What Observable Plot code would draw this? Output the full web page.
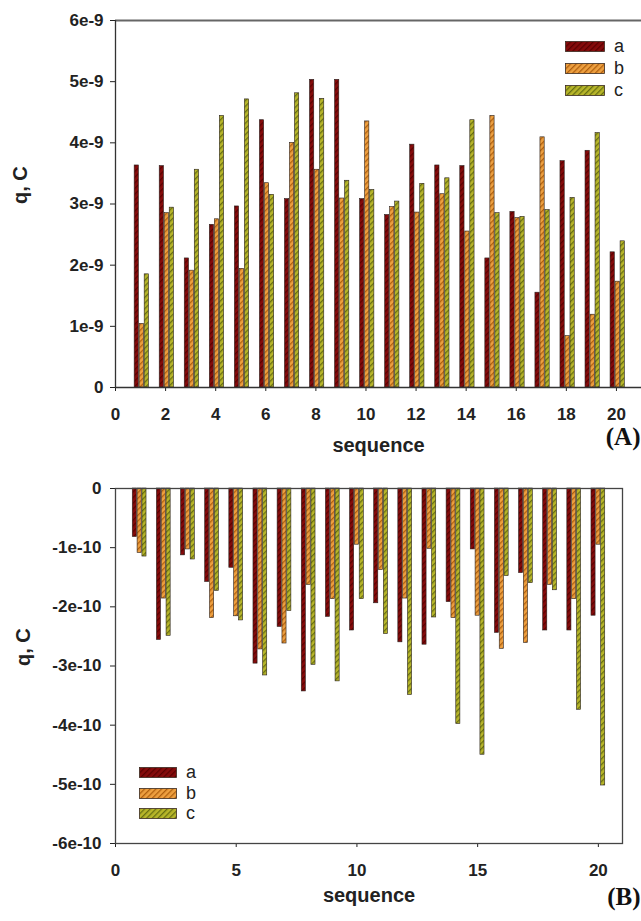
<!DOCTYPE html>
<html>
<head>
<meta charset="utf-8">
<script src="https://cdn.jsdelivr.net/npm/d3@7"></script>
<script src="https://cdn.jsdelivr.net/npm/@observablehq/plot@0.6"></script>
<style>
  html, body { margin: 0; padding: 0; background: #fff; }
  #wrap { position: relative; width: 641px; height: 921px; overflow: hidden; font-family: "Liberation Sans", Arial, sans-serif; }
  .panel { position: absolute; left: 0; }
  .panel g[aria-label*="axis"], .panel g[aria-label*="axis"] text { font-size: 17px !important; font-weight: bold !important; font-family: "Liberation Sans", Arial, sans-serif; fill: #222; }
  .legend { position: absolute; font-family: "Liberation Sans", Arial, sans-serif; font-size: 18px; color: #222; }
  .legend .row { position: absolute; left: 0; display: flex; align-items: center; white-space: nowrap; }
  .legend svg { display: block; }
</style>
</head>
<body>
<svg width="0" height="0" style="position:absolute">
  <defs>
    <pattern id="pa" patternUnits="userSpaceOnUse" width="4" height="4" patternTransform="rotate(45)">
      <rect width="4" height="4" fill="#850b0b"></rect>
      <rect width="1.3" height="4" fill="#5a0000"></rect>
    </pattern>
    <pattern id="pb" patternUnits="userSpaceOnUse" width="4" height="4" patternTransform="rotate(45)">
      <rect width="4" height="4" fill="#eea040"></rect>
      <rect width="1.3" height="4" fill="#b0600f"></rect>
    </pattern>
    <pattern id="pc" patternUnits="userSpaceOnUse" width="4" height="4" patternTransform="rotate(45)">
      <rect width="4" height="4" fill="#b8b62a"></rect>
      <rect width="1.3" height="4" fill="#687012"></rect>
    </pattern>
  </defs>
</svg>
<div id="wrap"></div>
<script>
// ---------- data ----------
const sequence = [1,2,3,4,5,6,7,8,9,10,11,12,13,14,15,16,17,18,19,20];
const seriesNames = ["a", "b", "c"];
const seriesFills = ["url(#pa)", "url(#pb)", "url(#pc)"];

// Panel A (q, C)
const qA_a = [3.63e-9,3.62e-9,2.11e-9,2.66e-9,2.96e-9,4.37e-9,3.08e-9,5.03e-9,5.03e-9,3.08e-9,2.82e-9,3.97e-9,3.63e-9,3.62e-9,2.11e-9,2.87e-9,1.55e-9,3.70e-9,3.87e-9,2.21e-9];
const qA_b = [1.04e-9,2.85e-9,1.91e-9,2.75e-9,1.94e-9,3.34e-9,4.00e-9,3.56e-9,3.09e-9,4.35e-9,2.95e-9,2.86e-9,3.16e-9,2.55e-9,4.44e-9,2.77e-9,4.09e-9,0.84e-9,1.19e-9,1.73e-9];
const qA_c = [1.85e-9,2.94e-9,3.56e-9,4.44e-9,4.71e-9,3.15e-9,4.81e-9,4.72e-9,3.38e-9,3.23e-9,3.04e-9,3.33e-9,3.42e-9,4.37e-9,2.85e-9,2.79e-9,2.90e-9,3.10e-9,4.16e-9,2.39e-9];

// Panel B (q, C)
const qB_a = [-0.82e-10,-2.56e-10,-1.13e-10,-1.58e-10,-1.34e-10,-2.96e-10,-2.34e-10,-3.43e-10,-2.17e-10,-2.40e-10,-1.94e-10,-2.60e-10,-2.64e-10,-1.92e-10,-1.03e-10,-2.44e-10,-1.43e-10,-2.40e-10,-2.40e-10,-2.15e-10];
const qB_b = [-1.09e-10,-1.86e-10,-1.03e-10,-2.19e-10,-2.16e-10,-2.72e-10,-2.62e-10,-1.63e-10,-1.87e-10,-0.95e-10,-1.38e-10,-1.86e-10,-1.02e-10,-2.19e-10,-2.15e-10,-2.71e-10,-2.61e-10,-1.63e-10,-1.87e-10,-0.95e-10];
const qB_c = [-1.15e-10,-2.49e-10,-1.20e-10,-1.73e-10,-2.23e-10,-3.16e-10,-2.07e-10,-2.98e-10,-3.26e-10,-1.87e-10,-2.46e-10,-3.49e-10,-2.18e-10,-3.98e-10,-4.50e-10,-1.48e-10,-1.60e-10,-1.72e-10,-3.74e-10,-5.02e-10];

// ticks
const xTicksA = [0,2,4,6,8,10,12,14,16,18,20];
const yTicksA = [0,1e-9,2e-9,3e-9,4e-9,5e-9,6e-9];
const yLabelsA = ["0","1e-9","2e-9","3e-9","4e-9","5e-9","6e-9"];
const xTicksB = [0,5,10,15,20];
const yTicksB = [0,-1e-10,-2e-10,-3e-10,-4e-10,-5e-10,-6e-10];
const yLabelsB = ["0","-1e-10","-2e-10","-3e-10","-4e-10","-5e-10","-6e-10"];

// ---------- helpers ----------
const barOffset = [-0.2, 0, 0.2];
const barHalf = 0.085;
function rows(arrays, shift) {
  const out = [];
  arrays.forEach((arr, si) => {
    arr.forEach((v, i) => out.push({seq: sequence[i], s: si, q: v, x1: sequence[i] + barOffset[si] + shift - barHalf, x2: sequence[i] + barOffset[si] + shift + barHalf}));
  });
  return out;
}
const dataA = rows([qA_a, qA_b, qA_c], 0.05);
const dataB = rows([qB_a, qB_b, qB_c], 0.0);

function barMarks(data) {
  return seriesNames.map((name, si) => Plot.rect(data.filter(d => d.s === si), {
    x1: "x1", x2: "x2", y1: d => 0, y2: "q",
    fill: seriesFills[si], stroke: "#2a2220", strokeWidth: 0.6
  }));
}

const baseStyle = {fontFamily: "Liberation Sans, Arial, sans-serif", fontSize: "17px", fontWeight: "bold", color: "#222", background: "transparent"};
const wrap = document.getElementById("wrap");

// ---------- Panel A ----------
const plotA = Plot.plot({
  width: 641, height: 460,
  marginLeft: 115, marginRight: 0, marginTop: 20, marginBottom: 73,
  style: baseStyle,
  x: {domain: [0, 21], ticks: xTicksA, tickSize: 4, tickPadding: 16, label: null},
  y: {domain: [0, 6e-9], ticks: yTicksA, tickFormat: d => yLabelsA[yTicksA.indexOf(d)], tickSize: 5, tickPadding: 7, label: null},
  marks: [
    ...barMarks(dataA),
    Plot.ruleY([6e-9], {stroke: "#666", strokeWidth: 2}),
    Plot.ruleY([0], {stroke: "#333", strokeWidth: 1.3}),
    Plot.ruleX([0], {stroke: "#333", strokeWidth: 1.3}),
    Plot.text(["sequence"], {text: d => d, frameAnchor: "bottom", dy: 64, fontSize: 20, fontWeight: "bold", fill: "#222"}),
    Plot.text(["q, C"], {text: d => d, frameAnchor: "left", dx: -95, rotate: -90, fontSize: 20, fontWeight: "bold", fill: "#222"}),
    Plot.text(["(A)"], {text: d => d, frameAnchor: "bottom-right", dx: -1, dy: 57, textAnchor: "end", fontFamily: "Liberation Serif, Times New Roman, serif", fontSize: 25, fontWeight: "bold", fill: "#111"})
  ]
});
plotA.classList.add("panel");
plotA.style.top = "0px";
wrap.appendChild(plotA);

// ---------- Panel B ----------
const plotB = Plot.plot({
  width: 641, height: 461,
  marginLeft: 115, marginRight: 19, marginTop: 28, marginBottom: 78,
  style: baseStyle,
  x: {domain: [0, 21], ticks: xTicksB, tickSize: 4, tickPadding: 16, label: null},
  y: {domain: [-6e-10, 0], ticks: yTicksB, tickFormat: d => yLabelsB[yTicksB.indexOf(d)], tickSize: 5, tickPadding: 9, label: null},
  marks: [
    ...barMarks(dataB),
    Plot.frame({stroke: "#444", strokeWidth: 1.3}),
    Plot.text(["sequence"], {text: d => d, frameAnchor: "bottom", dy: 58, fontSize: 20, fontWeight: "bold", fill: "#222"}),
    Plot.text(["q, C"], {text: d => d, frameAnchor: "left", dx: -92, rotate: -90, fontSize: 20, fontWeight: "bold", fill: "#222"}),
    Plot.text(["(B)"], {text: d => d, frameAnchor: "bottom-right", dx: 18, dy: 61, textAnchor: "end", fontFamily: "Liberation Serif, Times New Roman, serif", fontSize: 25, fontWeight: "bold", fill: "#111"})
  ]
});
plotB.classList.add("panel");
plotB.style.top = "460px";
wrap.appendChild(plotB);

// ---------- Legends (HTML overlays) ----------
function legend(left, top, swW, swH, gap, step) {
  const box = document.createElement("div");
  box.className = "legend";
  box.style.left = left + "px";
  box.style.top = top + "px";
  seriesNames.forEach((name, i) => {
    const row = document.createElement("div");
    row.className = "row";
    row.style.top = (i * step) + "px";
    row.style.height = swH + "px";
    const svg = d3.create("svg").attr("width", swW).attr("height", swH);
    svg.append("rect").attr("x", 0.5).attr("y", 0.5).attr("width", swW - 1).attr("height", swH - 1)
      .attr("fill", seriesFills[i]).attr("stroke", "#3a2a20").attr("stroke-width", 0.8);
    row.appendChild(svg.node());
    const lab = document.createElement("span");
    lab.textContent = name;
    lab.style.marginLeft = gap + "px";
    lab.style.lineHeight = swH + "px";
    row.appendChild(lab);
    box.appendChild(row);
  });
  wrap.appendChild(box);
}
legend(565, 41, 40, 11, 9, 22);
legend(139, 767, 38, 11, 9, 20.5);
</script>
</body>
</html>
